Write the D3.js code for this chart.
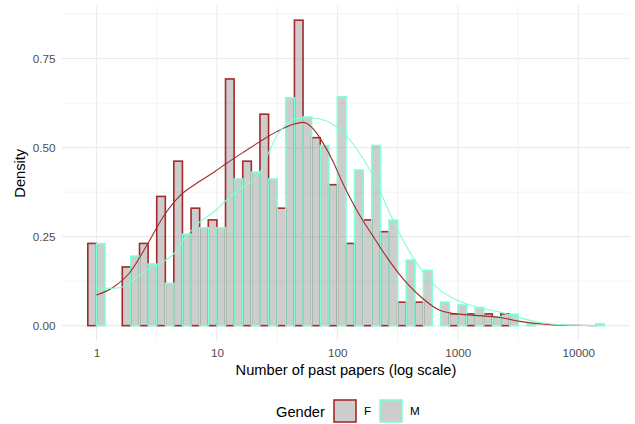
<!DOCTYPE html>
<html>
<head>
<meta charset="utf-8">
<script src="https://cdn.jsdelivr.net/npm/d3@7"></script>
<style>
  html, body { margin: 0; padding: 0; background: #fff; }
  svg { display: block; font-family: "Liberation Sans", Arial, sans-serif; }
</style>
</head>
<body>
<svg id="chart" width="635" height="424"></svg>
<script>
// ---- data ----
const groups = ["F", "M"];
const groupColors = ["#A52A2A", "#7FFFD4"];
// histogram bin centres, log10(number of past papers)
const binLog10 = [0, 0.143, 0.286, 0.429, 0.572, 0.714, 0.857, 1.000, 1.143, 1.286,
  1.429, 1.572, 1.715, 1.858, 2.000, 2.143, 2.286, 2.429, 2.572, 2.715,
  2.858, 3.001, 3.144, 3.286, 3.429, 3.572, 3.715, 3.858, 4.001, 4.144];
const histF = [0.231, 0, 0.165, 0.231, 0.363, 0.462, 0.330, 0.297, 0.693, 0.462,
  0.594, 0.330, 0.858, 0.528, 0.396, 0.231, 0.297, 0.264, 0.066, 0.066,
  0, 0.033, 0.033, 0.033, 0.033, 0, 0, 0, 0, 0];
const histM = [0.230, 0, 0.195, 0.173, 0.119, 0.257, 0.275, 0.275, 0.412, 0.431,
  0.412, 0.640, 0.586, 0.506, 0.643, 0.437, 0.506, 0.296, 0.184, 0.155,
  0.066, 0.058, 0.051, 0.025, 0.032, 0.005, 0, 0, 0, 0.005];
// density curves: x = log10(papers), y = density
const densFx = [0, 0.140, 0.279, 0.417, 0.555, 0.694, 0.832, 0.984, 1.081, 1.219, 1.357, 1.496,
  1.634, 1.717, 1.800, 1.883, 1.966, 2.038, 2.160, 2.298, 2.436, 2.575, 2.713, 2.851,
  2.990, 3.142, 3.349, 3.515, 3.765, 3.972, 4.144];
const densFy = [0.086, 0.108, 0.150, 0.225, 0.306, 0.365, 0.400, 0.433, 0.456, 0.487, 0.517, 0.545,
  0.566, 0.571, 0.553, 0.512, 0.460, 0.405, 0.325, 0.250, 0.180, 0.120, 0.075, 0.043,
  0.033, 0.029, 0.023, 0.012, 0.003, 0.001, 0.000];
const densMx = [0, 0.140, 0.210, 0.279, 0.417, 0.555, 0.638, 0.721, 0.832, 0.984, 1.081, 1.219,
  1.357, 1.441, 1.496, 1.579, 1.662, 1.773, 1.911, 2.022, 2.160, 2.298, 2.436, 2.575,
  2.713, 2.851, 2.990, 3.142, 3.349, 3.515, 3.731, 3.972, 4.144];
const densMy = [0.105, 0.105, 0.108, 0.122, 0.155, 0.180, 0.200, 0.240, 0.283, 0.322, 0.353, 0.390,
  0.430, 0.494, 0.533, 0.566, 0.582, 0.584, 0.575, 0.550, 0.497, 0.420, 0.315, 0.222,
  0.150, 0.100, 0.072, 0.054, 0.038, 0.022, 0.006, 0.001, 0.000];
const xTicks = [1, 10, 100, 1000, 10000];
const xTickLabels = ["1", "10", "100", "1000", "10000"];
const xMinor = [Math.sqrt(10), Math.sqrt(1000), Math.sqrt(100000), Math.sqrt(10000000)];
const yTicks = [0, 0.25, 0.5, 0.75];
const yTickLabels = ["0.00", "0.25", "0.50", "0.75"];
const yMinor = [0.125, 0.375, 0.625, 0.875];

// ---- layout ----
const svg = d3.select("#chart");
const panel = { left: 62, right: 630, top: 5.6, bottom: 340.9 };

const x = d3.scaleLog().domain([Math.pow(10, -0.2857), Math.pow(10, 4.429)])
  .range([panel.left, panel.right]);
const y = d3.scaleLinear().domain([-0.0428, 0.899]).range([panel.bottom, panel.top]);

// grid
const grid = svg.append("g");
grid.selectAll(".ymin").data(yMinor).join("line")
  .attr("x1", panel.left).attr("x2", panel.right)
  .attr("y1", d => y(d)).attr("y2", d => y(d))
  .attr("stroke", "#EBEBEB").attr("stroke-width", 0.6);
grid.selectAll(".xmin").data(xMinor).join("line")
  .attr("y1", panel.top).attr("y2", panel.bottom)
  .attr("x1", d => x(d)).attr("x2", d => x(d))
  .attr("stroke", "#EBEBEB").attr("stroke-width", 0.6);
grid.selectAll(".ymaj").data(yTicks).join("line")
  .attr("x1", panel.left).attr("x2", panel.right)
  .attr("y1", d => y(d)).attr("y2", d => y(d))
  .attr("stroke", "#EBEBEB").attr("stroke-width", 1.1);
grid.selectAll(".xmaj").data(xTicks).join("line")
  .attr("y1", panel.top).attr("y2", panel.bottom)
  .attr("x1", d => x(d)).attr("x2", d => x(d))
  .attr("stroke", "#EBEBEB").attr("stroke-width", 1.1);

// histogram bars (dodged)
const halfW = (binLog10[1] - binLog10[0]) / 2;
const hists = [histF, histM];
groups.forEach((g, gi) => {
  const data = binLog10.map((c, i) => ({ c, v: hists[gi][i] }));
  svg.append("g").selectAll("rect").data(data).join("rect")
    .attr("x", d => gi === 0 ? x(Math.pow(10, d.c - halfW)) : x(Math.pow(10, d.c)))
    .attr("width", d => gi === 0 ? x(Math.pow(10, d.c)) - x(Math.pow(10, d.c - halfW))
                                 : x(Math.pow(10, d.c + halfW)) - x(Math.pow(10, d.c)))
    .attr("y", d => y(d.v))
    .attr("height", d => y(0) - y(d.v))
    .attr("fill", "#595959").attr("fill-opacity", 0.3)
    .attr("stroke", groupColors[gi]).attr("stroke-width", 1.6);
});

// density lines
const densX = [densFx, densMx], densY = [densFy, densMy];
groups.forEach((g, gi) => {
  const pts = densX[gi].map((v, i) => [v, densY[gi][i]]);
  const line = d3.line()
    .x(d => x(Math.pow(10, d[0])))
    .y(d => y(d[1]))
    .curve(d3.curveMonotoneX);
  svg.append("path").attr("d", line(pts))
    .attr("fill", "none").attr("stroke", groupColors[gi]).attr("stroke-width", 1.1);
});

// axes (text only, theme_minimal)
const xAxis = d3.axisBottom(x).tickValues(xTicks).tickFormat((d, i) => xTickLabels[i]).tickSize(0).tickPadding(0);
const xg = svg.append("g").attr("transform", `translate(0,${panel.bottom})`).call(xAxis);
xg.select(".domain").remove();
xg.selectAll("text").attr("dy", null).attr("y", 16.5)
  .attr("fill", "#4D4D4D").style("font-size", "11.7px").style("font-family", "Liberation Sans, Arial, sans-serif");

const yAxis = d3.axisLeft(y).tickValues(yTicks).tickFormat((d, i) => yTickLabels[i]).tickSize(0).tickPadding(0);
const yg = svg.append("g").attr("transform", `translate(${panel.left},0)`).call(yAxis);
yg.select(".domain").remove();
yg.selectAll("text").attr("x", -6.5).attr("dy", "0.35em")
  .attr("fill", "#4D4D4D").style("font-size", "11.7px").style("font-family", "Liberation Sans, Arial, sans-serif");

// axis titles
svg.append("text").attr("x", (panel.left + panel.right) / 2).attr("y", 375)
  .attr("text-anchor", "middle").attr("fill", "#000").style("font-size", "14.67px")
  .text("Number of past papers (log scale)");
svg.append("text").attr("transform", `translate(24.5,${(panel.top + panel.bottom) / 2}) rotate(-90)`)
  .attr("text-anchor", "middle").attr("fill", "#000").style("font-size", "14.67px")
  .text("Density");

// legend
const lg = svg.append("g");
lg.append("text").attr("x", 276).attr("y", 417).attr("fill", "#000").style("font-size", "14.67px").text("Gender");
const keyX = [334, 380];
groups.forEach((g, gi) => {
  lg.append("rect").attr("x", keyX[gi]).attr("y", 400).attr("width", 22).attr("height", 22)
    .attr("fill", "#595959").attr("fill-opacity", 0.3)
    .attr("stroke", groupColors[gi]).attr("stroke-width", 1.6);
  lg.append("text").attr("x", keyX[gi] + 30).attr("y", 415.3).attr("fill", "#000")
    .style("font-size", "11.7px").text(g);
});
</script>
</body>
</html>
